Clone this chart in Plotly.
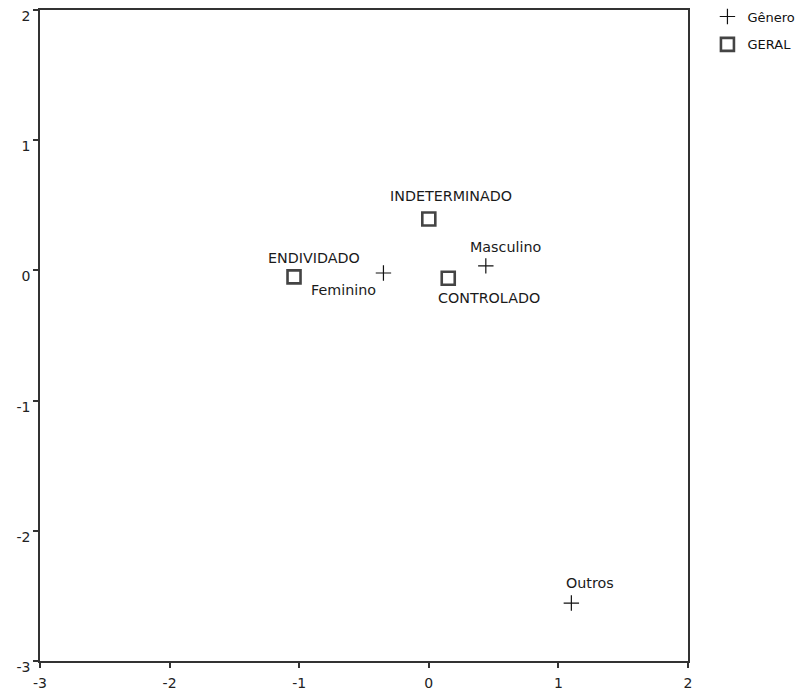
import plotly.graph_objects as go

# Data
geral_labels = ["ENDIVIDADO", "INDETERMINADO", "CONTROLADO"]
geral_x = [-1.04, 0.00, 0.15]
geral_y = [-0.05, 0.395, -0.06]

genero_labels = ["Feminino", "Masculino", "Outros"]
genero_x = [-0.35, 0.44, 1.10]
genero_y = [-0.02, 0.035, -2.555]

axis_ticks = [-3, -2, -1, 0, 1, 2]

# label offsets in pixels (dx right, dy up)
label_offsets = {
    "ENDIVIDADO": (20, 19),
    "INDETERMINADO": (22, 23),
    "CONTROLADO": (41, -20),
    "Feminino": (-40, -17),
    "Masculino": (20, 19),
    "Outros": (19, 20),
}

FONT = "DejaVu Sans, Liberation Sans, Arial"

fig = go.Figure()
fig.add_trace(go.Scatter(
    x=genero_x, y=genero_y, mode="markers", name="Gênero", legendgroup="g1",
    marker=dict(symbol="cross-thin", size=11, line=dict(width=1.2, color="#111")),
    hoverinfo="text", text=genero_labels,
))
fig.add_trace(go.Scatter(
    x=geral_x, y=geral_y, mode="markers", name="GERAL", legendgroup="g2",
    marker=dict(symbol="square-open", size=13, color="#444", line=dict(width=2.6, color="#444")),
    hoverinfo="text", text=geral_labels,
))

for lab, xx, yy in list(zip(geral_labels, geral_x, geral_y)) + list(zip(genero_labels, genero_x, genero_y)):
    dx, dy = label_offsets[lab]
    fig.add_annotation(x=xx, y=yy, text=lab, showarrow=False, xshift=dx, yshift=dy,
                       font=dict(family=FONT, size=14.3, color="#1a1a1a"))

axis_common = dict(
    range=[-3, 2], tickvals=axis_ticks, ticktext=[str(t) for t in axis_ticks],
    showline=True, linecolor="#333", linewidth=1.5, mirror=True,
    ticks="outside", ticklen=5, tickwidth=1.5, tickcolor="#333",
    showgrid=False, zeroline=False, automargin=False, ticklabeloverflow="allow",
    tickfont=dict(family=FONT, size=14, color="#222"),
)
fig.update_xaxes(**axis_common, ticklabelstandoff=3)
fig.update_yaxes(**axis_common, ticklabelshift=6)

# page body has an 8px default margin, so the figure is sized 8px smaller
fig.update_layout(
    width=797, height=683,
    margin=dict(l=32, r=117, t=2, b=30, autoexpand=False),
    plot_bgcolor="white", paper_bgcolor="white",
    showlegend=True,
    legend=dict(x=1.03, y=1.013, xanchor="left", yanchor="top",
                font=dict(family=FONT, size=13, color="#111"),
                itemwidth=30, tracegroupgap=8, bgcolor="rgba(0,0,0,0)"),
)

fig.write_html("out.html")
